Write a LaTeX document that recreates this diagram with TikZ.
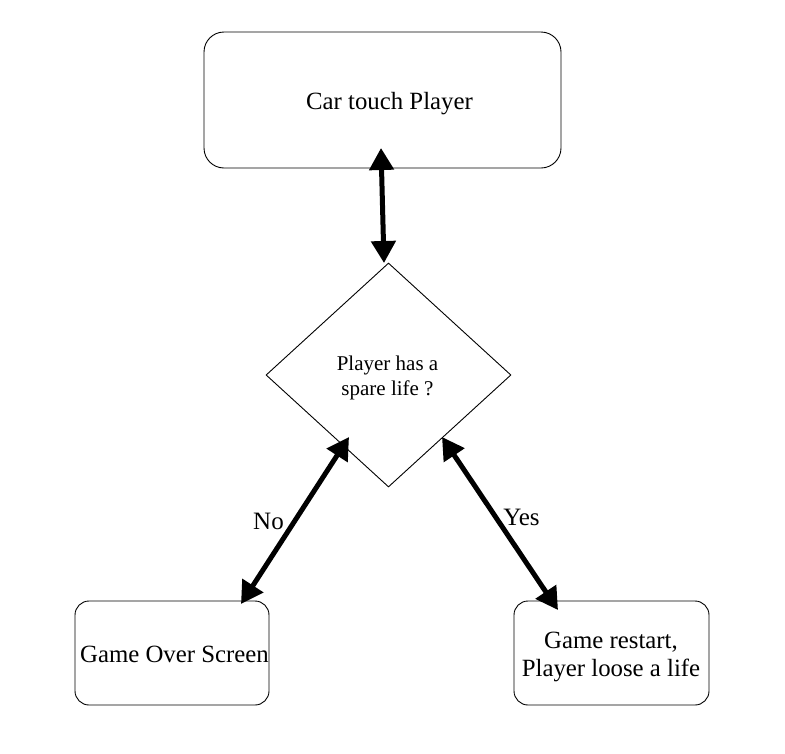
\documentclass[tikz,border=0pt]{standalone}
\usepackage{fontspec}
\setmainfont{Liberation Serif}
\usetikzlibrary{shapes.geometric,arrows.meta}
\tikzset{
  boxnode/.style={draw=black, line width=0.9pt, rectangle, inner sep=0pt},
  decision/.style={draw=black, line width=0.9pt, diamond, inner sep=0pt,
    minimum width=245pt, minimum height=224pt},
  boxtext/.style={inner sep=0pt, align=center, font=\fontsize{24.8}{28}\selectfont},
  dectext/.style={inner sep=0pt, align=center, font=\fontsize{21}{24.5}\selectfont},
  bigarrow/.style={line width=5pt, {Triangle[length=22pt,width=24pt]}-{Triangle[length=22pt,width=24pt]}},
  lbl/.style={font=\fontsize{25}{28}\selectfont, inner sep=0pt}
}
\begin{document}
\begin{tikzpicture}[x=1pt,y=-1pt]
\useasboundingbox (0,0) rectangle (785,753);
\node[boxnode, minimum width=357pt, minimum height=136pt, rounded corners=20pt] (car) at (382.5,100) {};
\node[boxtext] (cartext) at (389.5,103.5) {Car touch Player};
\node[decision] (dec) at (388.5,375) {};
\node[dectext] (dectxt) at (387.5,378) {Player has a\\spare life ?};
\node[boxnode, minimum width=194pt, minimum height=104pt, rounded corners=14pt] (over) at (172,653) {};
\node[boxtext] (overtext) at (174.5,654.5) {Game Over Screen};
\node[boxnode, minimum width=195pt, minimum height=104pt, rounded corners=14pt] (restart) at (611.5,653) {};
\node[boxtext] (restarttext) at (611,657) {Game restart,\\Player loose a life};
\coordinate (a1) at (381,148);
\coordinate (a2) at (384,263);
\coordinate (b1) at (349,437);
\coordinate (b2) at (241,604);
\coordinate (c1) at (442,437);
\coordinate (c2) at (558,610);
\draw[bigarrow] (a1) -- (a2);
\draw[bigarrow] (b1) -- (b2);
\draw[bigarrow] (c1) -- (c2);
\node[lbl] (no) at (268.5,521.5) {No};
\node[lbl] (yes) at (521.5,517) {Yes};
\end{tikzpicture}
\end{document}
